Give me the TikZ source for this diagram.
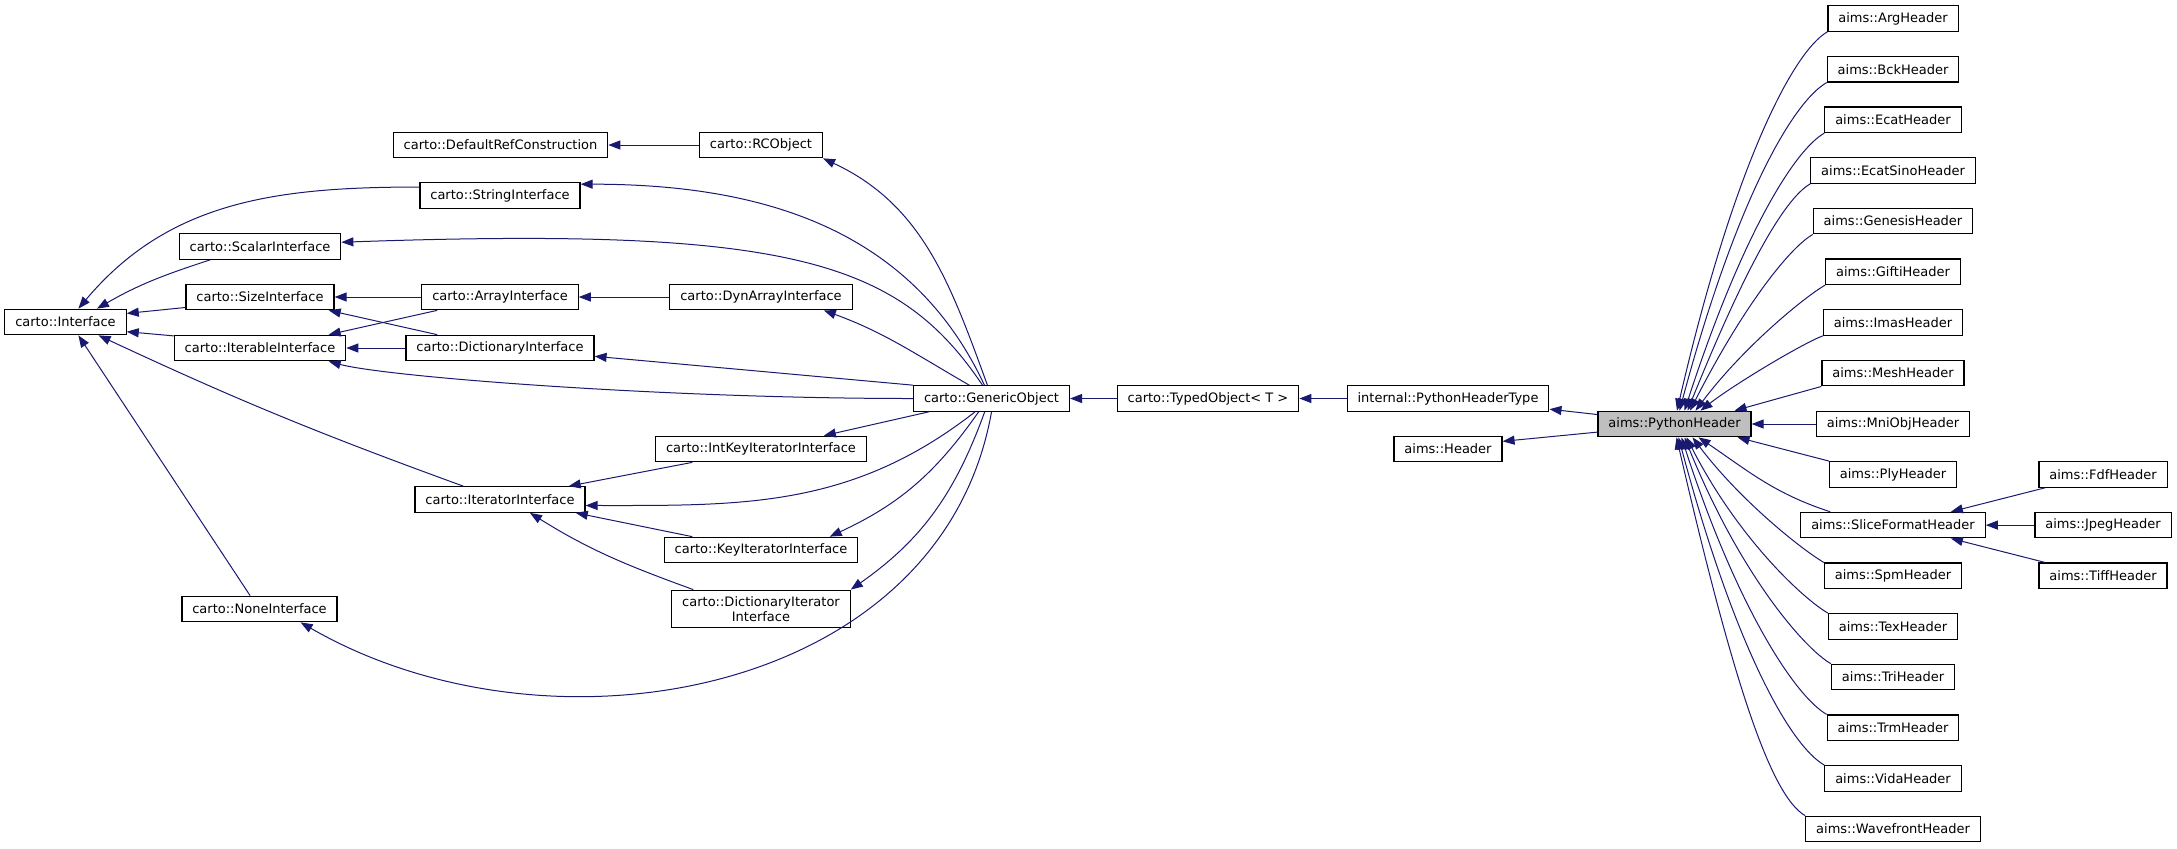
\documentclass[tikz,border=0pt]{standalone}
\usepackage{fontspec}
\setmainfont{DejaVu Sans}
\usetikzlibrary{arrows.meta}
\definecolor{edgeblue}{RGB}{25,25,112}
\definecolor{hilite}{RGB}{191,191,191}
\begin{document}
\begin{tikzpicture}[x=0.5pt, y=-0.5pt]
\tikzstyle{cls} = [draw, fill=white, line width=0.6pt, inner xsep=5.2pt, inner ysep=3pt,
    minimum height=12.75pt, align=center, font=\fontsize{6.5pt}{7.8pt}\selectfont]
\tikzstyle{inh} = [draw=edgeblue, line width=0.5pt, -{Triangle[length=6pt,width=4.5pt]}]
\useasboundingbox (0,0) rectangle (2177,848);

\node[cls] (drc) at (500.5,145) {carto::DefaultRefConstruction};
\node[cls] (rco) at (761,145) {carto::RCObject};
\node[cls] (str) at (500,195.5) {carto::StringInterface};
\node[cls] (scal) at (260,246.5) {carto::ScalarInterface};
\node[cls] (size) at (260,297) {carto::SizeInterface};
\node[cls] (arr) at (500,297) {carto::ArrayInterface};
\node[cls] (dyn) at (761,297) {carto::DynArrayInterface};
\node[cls] (intf) at (65.5,322) {carto::Interface};
\node[cls] (iter) at (260,348) {carto::IterableInterface};
\node[cls] (dict) at (500,348) {carto::DictionaryInterface};
\node[cls] (gen) at (991.5,398.5) {carto::GenericObject};
\node[cls] (typ) at (1208,398.5) {carto::TypedObject< T >};
\node[cls] (intkey) at (761,449) {carto::IntKeyIteratorInterface};
\node[cls] (itr) at (500,499.5) {carto::IteratorInterface};
\node[cls] (key) at (761,550) {carto::KeyIteratorInterface};
\node[cls] (dictit) at (761,609) {carto::DictionaryIterator\\Interface};
\node[cls] (none) at (259.5,609) {carto::NoneInterface};
\node[cls] (pht) at (1448,398.5) {internal::PythonHeaderType};
\node[cls] (hdr) at (1448,449) {aims::Header};
\node[cls, fill=hilite] (ph) at (1674.5,424) {aims::PythonHeader};

\node[cls] (arg) at (1893,18.5) {aims::ArgHeader};
\node[cls] (bck) at (1893,69.2) {aims::BckHeader};
\node[cls] (ecat) at (1893,119.8) {aims::EcatHeader};
\node[cls] (ecatsino) at (1893,170.5) {aims::EcatSinoHeader};
\node[cls] (genesis) at (1893,221.1) {aims::GenesisHeader};
\node[cls] (gifti) at (1893,271.8) {aims::GiftiHeader};
\node[cls] (imas) at (1893,322.5) {aims::ImasHeader};
\node[cls] (mesh) at (1893,373.1) {aims::MeshHeader};
\node[cls] (mni) at (1893,424) {aims::MniObjHeader};
\node[cls] (ply) at (1893,474.4) {aims::PlyHeader};
\node[cls] (slice) at (1893,525.1) {aims::SliceFormatHeader};
\node[cls] (spm) at (1893,575.8) {aims::SpmHeader};
\node[cls] (tex) at (1893,626.4) {aims::TexHeader};
\node[cls] (tri) at (1893,677.1) {aims::TriHeader};
\node[cls] (trm) at (1893,727.7) {aims::TrmHeader};
\node[cls] (vida) at (1893,778.4) {aims::VidaHeader};
\node[cls] (wave) at (1893,829) {aims::WavefrontHeader};
\node[cls] (fdf) at (2103,474.4) {aims::FdfHeader};
\node[cls] (jpeg) at (2103,525.1) {aims::JpegHeader};
\node[cls] (tiff) at (2103,575.8) {aims::TiffHeader};

\draw[inh] (rco) -- (drc);
\draw[inh] (gen.107) to[out=110,in=-25] (rco.south east);
\draw[inh] (gen.118) to[out=115,in=0] (str.8);
\draw[inh] (gen.124) to[out=124,in=2,out distance=75pt,in distance=225pt] (scal.3);
\draw[inh] (gen.149) to[out=150,in=-20] (dyn.-12);
\draw[inh] (gen.north west) -- (dict.-5);
\draw[inh] (gen.west) to[out=180,in=-15,out distance=125pt,in distance=30pt] (iter.-11);
\draw[inh] (str.174) to[out=180,in=50] (intf.46);
\draw[inh] (scal.195) to[out=198,in=30] (intf.23);
\draw[inh] (size.188) -- (intf.8);
\draw[inh] (iter.172) -- (intf.-9);
\draw[inh] (arr) -- (size);
\draw[inh] (arr.192) -- (iter.11);
\draw[inh] (dict.168) -- (size.-11);
\draw[inh] (dict) -- (iter);
\draw[inh] (dyn) -- (arr);
\draw[inh] (itr.160) to[out=160,in=-25] (intf.-22);
\draw[inh] (none.125) -- (intf.-46);
\draw[inh] (intkey.191) -- (itr.11);
\draw[inh] (gen.192) -- (intkey.12);
\draw[inh] (gen.219) to[out=218,in=0] (itr.-4);
\draw[inh] (key.169) -- (itr.-10);
\draw[inh] (dictit.164) to[out=160,in=-32] (itr.-24);
\draw[inh] (gen.226) to[out=235,in=25] (key.11);
\draw[inh] (gen.243) to[out=250,in=35] (dictit.north east);
\draw[inh] (gen.south) to[out=260,in=-30,looseness=1.02] (none.-18);

\draw[inh] (typ) -- (gen);
\draw[inh] (pht) -- (typ);
\draw[inh] (ph.173) -- (pht.-6);
\draw[inh] (ph.186) -- (hdr.8);

\draw[inh] (arg.south west) to[out=210,in=77,out distance=20pt,in distance=125pt] ([xshift=1.25pt]ph.north);
\draw[inh] (bck.south west) to[out=210,in=75,out distance=20pt,in distance=108pt] ([xshift=2.5pt]ph.north);
\draw[inh] (ecat.south west) to[out=210,in=72,out distance=18pt,in distance=90pt] ([xshift=5pt]ph.north);
\draw[inh] (ecatsino.south west) to[out=210,in=68,out distance=16pt,in distance=73pt] ([xshift=6.5pt]ph.north);
\draw[inh] (genesis.south west) to[out=210,in=63,out distance=14pt,in distance=57pt] ([xshift=7.75pt]ph.north);
\draw[inh] (gifti.south west) to[out=210,in=53,out distance=12pt,in distance=40pt] ([xshift=10.5pt]ph.north);
\draw[inh] (imas.south west) to[out=200,in=38,out distance=10pt,in distance=22pt] ([xshift=13pt]ph.north);
\draw[inh] (mesh.south west) -- ([xshift=30pt]ph.north);
\draw[inh] (mni) -- (ph);
\draw[inh] (ply.north west) -- ([xshift=31.5pt]ph.south);
\draw[inh] (slice.168) to[out=162,in=-34] ([xshift=12pt]ph.south);
\draw[inh] (spm.north west) to[out=150,in=-53,out distance=12pt,in distance=40pt] ([xshift=9pt]ph.south);
\draw[inh] (tex.north west) to[out=150,in=-63,out distance=14pt,in distance=57pt] ([xshift=6pt]ph.south);
\draw[inh] (tri.north west) to[out=150,in=-68,out distance=16pt,in distance=73pt] ([xshift=5pt]ph.south);
\draw[inh] (trm.north west) to[out=150,in=-72,out distance=18pt,in distance=90pt] ([xshift=3.5pt]ph.south);
\draw[inh] (vida.north west) to[out=150,in=-75,out distance=20pt,in distance=108pt] ([xshift=2pt]ph.south);
\draw[inh] (wave.north west) to[out=150,in=-77,out distance=20pt,in distance=125pt] ([xshift=1pt]ph.south);

\draw[inh] (fdf.193) -- (slice.13);
\draw[inh] (jpeg) -- (slice);
\draw[inh] (tiff.167) -- (slice.-13);
\end{tikzpicture}
\end{document}
